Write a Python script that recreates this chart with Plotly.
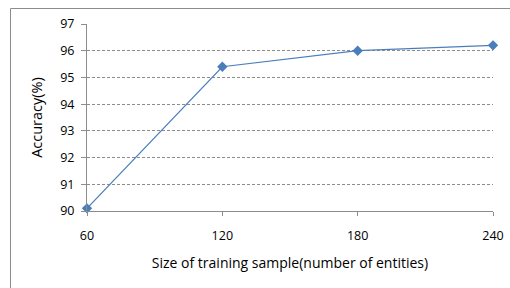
import plotly.graph_objects as go

sizes = [60, 120, 180, 240]
accuracy = [90.1, 95.4, 96.0, 96.2]
y_ticks = [90, 91, 92, 93, 94, 95, 96, 97]

W, H = 510, 288
L, R, T, B = 87, 17, 24, 77
pw, ph = W - L - R, H - T - B

def px(x):
    return (x - L) / pw

def py(y):
    return 1 - (y - T) / ph

FONT = "Open Sans"
fig = go.Figure()
fig.add_trace(go.Scatter(
    x=sizes, y=accuracy, mode="lines+markers",
    line=dict(color="#4A7EBB", width=1.2),
    marker=dict(symbol="diamond", size=8, color="#4A7EBB"),
    cliponaxis=False, showlegend=False,
))

fig.update_layout(
    width=W, height=H, autosize=False,
    margin=dict(l=L, r=R, t=T, b=B, autoexpand=False),
    paper_bgcolor="white", plot_bgcolor="white",
    font=dict(family=FONT, size=12.5, color="#000000"),
    xaxis=dict(
        range=[60, 240], tickvals=sizes, ticktext=[str(s) for s in sizes],
        showgrid=False, zeroline=False, showline=True, linecolor="#8C8C8C", linewidth=1,
        ticks="outside", ticklen=4, tickcolor="#8C8C8C", automargin=False,
        ticklabelstandoff=9,
        title=dict(text="Size of training sample(number of entities)", standoff=15,
                   font=dict(size=14)),
    ),
    yaxis=dict(
        range=[90, 97], tickvals=y_ticks, ticktext=[str(v) for v in y_ticks],
        showgrid=True, gridcolor="#8C8C8C", griddash="3px,2px", gridwidth=1,
        zeroline=False, showline=True, linecolor="#8C8C8C", linewidth=1,
        ticks="outside", ticklen=5, tickcolor="#8C8C8C", automargin=False,
        ticklabelstandoff=4,
        title=dict(text="Accuracy(%)", standoff=14, font=dict(size=14.5)),
    ),
    shapes=[
        dict(type="line", xref="paper", yref="paper", x0=px(10.5), x1=px(510),
             y0=py(8.5), y1=py(8.5), line=dict(color="#8C8C8C", width=1)),
        dict(type="line", xref="paper", yref="paper", x0=px(10.5), x1=px(10.5),
             y0=py(8.5), y1=py(288), line=dict(color="#8C8C8C", width=1)),
    ],
)

fig.write_html(
    "out.html",
    config={"displayModeBar": False, "responsive": False},
    post_script="document.body.style.margin='0';document.body.style.overflow='hidden';",
)
